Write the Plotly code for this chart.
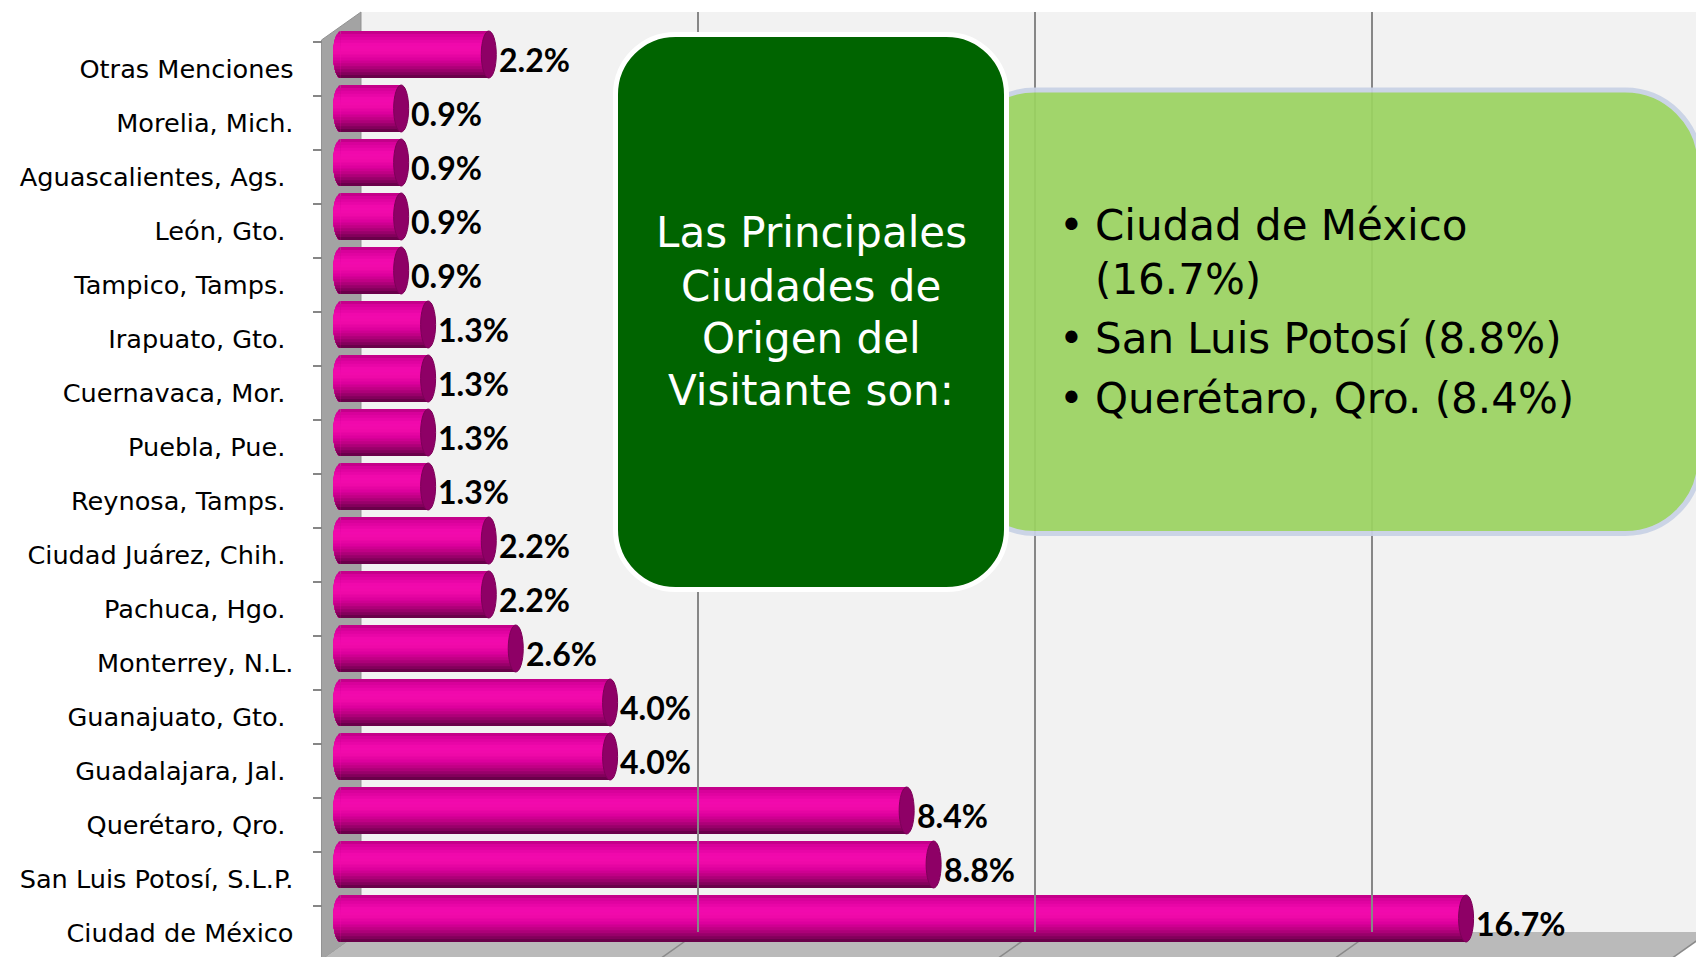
import math
import plotly.graph_objects as go

# ---- data -------------------------------------------------------------
# bottom-to-top order of the bars (trailing no-break spaces are part of the labels)
cities = [
    "Ciudad de México",
    "San Luis Potosí, S.L.P.",
    "Querétaro, Qro.\u00a0",
    "Guadalajara, Jal.\u00a0",
    "Guanajuato, Gto.\u00a0",
    "Monterrey, N.L.",
    "Pachuca, Hgo.\u00a0",
    "Ciudad Juárez, Chih.\u00a0",
    "Reynosa, Tamps.\u00a0",
    "Puebla, Pue.\u00a0",
    "Cuernavaca, Mor.\u00a0",
    "Irapuato, Gto.\u00a0",
    "Tampico, Tamps.\u00a0",
    "León, Gto.\u00a0",
    "Aguascalientes, Ags.\u00a0",
    "Morelia, Mich.",
    "Otras Menciones",
]
shares = [16.7, 8.8, 8.4, 4.0, 4.0, 2.6, 2.2, 2.2, 1.3, 1.3, 1.3, 1.3,
          0.9, 0.9, 0.9, 0.9, 2.2]
grid_ticks = [5, 10, 15]
axis_max = 20
title_lines = ["Las Principales", "Ciudades de", "Origen del", "Visitante son:"]
highlight_lines = ["Ciudad de México", "(16.7%)", "San Luis Potosí (8.8%)",
                   "Querétaro, Qro. (8.4%)"]
highlight_bullets = [True, False, True, True]

# ---- geometry (pixels) -----------------------------------------------
W, H = 1696, 957
PX = 67.4                     # pixels per percentage point
FRONT_X0, BACK_X0, BAR_X0 = 321.5, 361.0, 340.5
BACK_TOP, FLOOR_BACK, FLOOR_FRONT = 12, 932, 960
FRONT_TOP, PITCH, BAR_SHIFT = 42, 54.0, 14.5
BAR_W = 47 / PITCH            # bar thickness in category units
CAP_W = 15 / PX               # end-cap ellipse width in data units


def px(x):
    return x / W


def py(y):
    return 1 - y / H


def poly(points):
    return "M " + " L ".join(f"{px(x):.5f},{py(y):.5f}" for x, y in points) + " Z"


def rounded(x0, y0, x1, y1, r):
    k = 0.5523 * r
    P = lambda x, y: f"{px(x):.5f},{py(y):.5f}"
    return (f"M {P(x0 + r, y0)} L {P(x1 - r, y0)} "
            f"C {P(x1 - r + k, y0)} {P(x1, y0 + r - k)} {P(x1, y0 + r)} "
            f"L {P(x1, y1 - r)} "
            f"C {P(x1, y1 - r + k)} {P(x1 - r + k, y1)} {P(x1 - r, y1)} "
            f"L {P(x0 + r, y1)} "
            f"C {P(x0 + r - k, y1)} {P(x0, y1 - r + k)} {P(x0, y1 - r)} "
            f"L {P(x0, y0 + r)} "
            f"C {P(x0, y0 + r - k)} {P(x0 + r - k, y0)} {P(x0 + r, y0)} Z")


# cylinder shading, top edge (t=0) to bottom edge (t=1)
shade_stops = [(0.0, (184, 0, 127)), (0.08, (214, 0, 154)), (0.3, (242, 10, 174)),
               (0.45, (240, 10, 170)), (0.6, (220, 0, 156)), (0.75, (184, 0, 127)),
               (0.88, (140, 0, 98)), (1.0, (94, 0, 66))]


def shade(t):
    for (t0, c0), (t1, c1) in zip(shade_stops, shade_stops[1:]):
        if t0 <= t <= t1:
            f = (t - t0) / (t1 - t0)
            c = [round(a + (b - a) * f) for a, b in zip(c0, c1)]
            return f"rgb({c[0]},{c[1]},{c[2]})"
    return "rgb(94,0,66)"


n = len(cities)
pos = list(range(n))
top_cat = n - 0.5
front_range = [top_cat - (H - FRONT_TOP) / PITCH, top_cat + FRONT_TOP / PITCH]
bar_top_px = FRONT_TOP - BAR_SHIFT
bar_range = [top_cat - (H - bar_top_px) / PITCH, top_cat + bar_top_px / PITCH]

fig = go.Figure()

# shaded cylinder bodies: nested bars, each one a band shorter from the top
N_BANDS = 16
for j in range(N_BANDS):
    fig.add_trace(go.Bar(
        orientation="h", x=shares, y=pos, xaxis="x", yaxis="y2",
        offset=-BAR_W / 2, width=BAR_W * (1 - j / N_BANDS),
        marker=dict(color=shade((j + 0.5) / N_BANDS), line=dict(width=0)),
        hoverinfo="skip", showlegend=False,
    ))

# rounded left ends of the cylinders, shaded with the same bands
a, b = CAP_W / 2, BAR_W / 2
for j in range(N_BANDS):
    top = b - 2 * b * j / N_BANDS          # band top relative to bar centre
    th_top = math.asin(max(-1.0, min(1.0, top / b)))
    xs, ys = [], []
    for i in pos:
        steps = 14
        for s in range(steps + 1):
            th = -math.pi / 2 + (th_top + math.pi / 2) * s / steps
            xs.append(-a * math.cos(th))
            ys.append(i + b * math.sin(th))
        xs += [0, 0, None]
        ys += [i + top, i - b, None]
    fig.add_trace(go.Scatter(x=xs, y=ys, xaxis="x", yaxis="y2", mode="lines",
                             fill="toself", fillcolor=shade((j + 0.5) / N_BANDS),
                             line=dict(width=0), hoverinfo="skip", showlegend=False))

# carrier for the category tick labels on the front edge
fig.add_trace(go.Scatter(x=shares, y=cities, xaxis="x", yaxis="y", mode="markers",
                         marker=dict(opacity=0), hoverinfo="skip", showlegend=False))
# carrier for the back-wall grid
fig.add_trace(go.Scatter(x=[0], y=[0], xaxis="x2", yaxis="y3", mode="markers",
                         marker=dict(opacity=0), hoverinfo="skip", showlegend=False))

shapes = []
# back wall, side wall and floor of the 3-D frame
shapes.append(dict(type="rect", xref="paper", yref="paper", layer="below",
                   x0=px(BACK_X0), x1=1, y0=py(FLOOR_BACK), y1=py(BACK_TOP),
                   fillcolor="#f2f2f2", line=dict(width=0)))
shapes.append(dict(type="path", xref="paper", yref="paper", layer="below",
                   path=poly([(FRONT_X0, FRONT_TOP - 2), (BACK_X0, BACK_TOP),
                              (BACK_X0, FLOOR_BACK), (FRONT_X0, FLOOR_FRONT)]),
                   fillcolor="#a3a3a3", line=dict(color="#929292", width=1)))
shapes.append(dict(type="path", xref="paper", yref="paper", layer="below",
                   path=poly([(FRONT_X0, FLOOR_FRONT), (BACK_X0, FLOOR_BACK),
                              (BACK_X0 + axis_max * PX, FLOOR_BACK),
                              (FRONT_X0 + axis_max * PX, FLOOR_FRONT)]),
                   fillcolor="#bababa", line=dict(width=0)))
for t in grid_ticks + [axis_max]:
    shapes.append(dict(type="line", xref="paper", yref="paper", layer="below",
                       x0=px(BACK_X0 + t * PX), y0=py(FLOOR_BACK),
                       x1=px(FRONT_X0 + t * PX), y1=py(FLOOR_FRONT),
                       line=dict(color="#8a8a8a", width=1.5)))

# dark end faces of the cylinders
for i, v in zip(pos, shares):
    shapes.append(dict(type="circle", xref="x", yref="y2", layer="above",
                       x0=v - CAP_W / 2, x1=v + CAP_W / 2,
                       y0=i - BAR_W / 2, y1=i + BAR_W / 2,
                       fillcolor="#8e0066", line=dict(color="#7c0058", width=1)))

# call-out boxes
shapes.append(dict(type="path", xref="paper", yref="paper", layer="above",
                   path=rounded(960, 90, 1700, 533.5, 75),
                   fillcolor="#9bd361", opacity=0.93,
                   line=dict(color="#c9d2e6", width=5)))
shapes.append(dict(type="path", xref="paper", yref="paper", layer="above",
                   path=rounded(615.5, 34.5, 1006.5, 589.5, 60),
                   fillcolor="#006400", line=dict(color="white", width=5)))

annotations = []
for i, v in zip(pos, shares):
    annotations.append(dict(x=v, y=i, xref="x", yref="y2", text=f"{v:.1f}%",
                            xanchor="left", yanchor="middle", xshift=8, yshift=-5,
                            showarrow=False,
                            font=dict(family="Lato", size=32, color="black",
                                      weight="bold")))

for line, yc in zip(title_lines, [233, 286, 338, 390]):
    annotations.append(dict(x=px(811), y=py(yc), xref="paper", yref="paper",
                            text=line, showarrow=False, xanchor="center",
                            yanchor="middle",
                            font=dict(family="DejaVu Sans", size=42, color="white")))

for line, bullet, yc in zip(highlight_lines, highlight_bullets, [225, 279, 338, 398]):
    if bullet:
        annotations.append(dict(x=px(1071), y=py(yc), xref="paper", yref="paper",
                                text="•", showarrow=False, xanchor="center",
                                yanchor="middle",
                                font=dict(family="DejaVu Sans", size=42,
                                          color="black")))
    annotations.append(dict(x=px(1093), y=py(yc), xref="paper", yref="paper",
                            text=line, showarrow=False, xanchor="left",
                            yanchor="middle",
                            font=dict(family="DejaVu Sans", size=42, color="black")))

x_lo = (FRONT_X0 - BAR_X0) / PX
fig.update_layout(
    width=W, height=H, margin=dict(l=0, r=0, t=0, b=0),
    paper_bgcolor="white", plot_bgcolor="rgba(0,0,0,0)",
    barmode="overlay", showlegend=False,
    shapes=shapes, annotations=annotations,
    xaxis=dict(domain=[px(FRONT_X0), 1], range=[x_lo, (W - BAR_X0) / PX],
               anchor="y2", visible=False, fixedrange=True),
    yaxis=dict(type="category", categoryorder="array", categoryarray=cities,
               range=front_range, domain=[0, 1], anchor="free", position=px(FRONT_X0),
               side="left", ticks="outside", tickson="boundaries", ticklen=9,
               tickcolor="#868686", tickwidth=1.5, showgrid=False, zeroline=False,
               showline=False, ticklabelstandoff=28,
               tickfont=dict(family="DejaVu Sans", size=25.6, color="black"),
               fixedrange=True),
    yaxis2=dict(type="linear", range=bar_range, overlaying="y", anchor="x",
                visible=False, fixedrange=True),
    xaxis2=dict(domain=[px(BACK_X0), 1], range=[0, (W - BACK_X0) / PX], anchor="y3",
                tickvals=grid_ticks, showgrid=True, gridcolor="#878787", gridwidth=1.5,
                showticklabels=False, ticks="", zeroline=False, showline=False,
                fixedrange=True),
    yaxis3=dict(domain=[py(FLOOR_BACK), py(BACK_TOP)], range=[0, 1], anchor="x2",
                visible=False, fixedrange=True),
)

fig.write_html("out.html")
